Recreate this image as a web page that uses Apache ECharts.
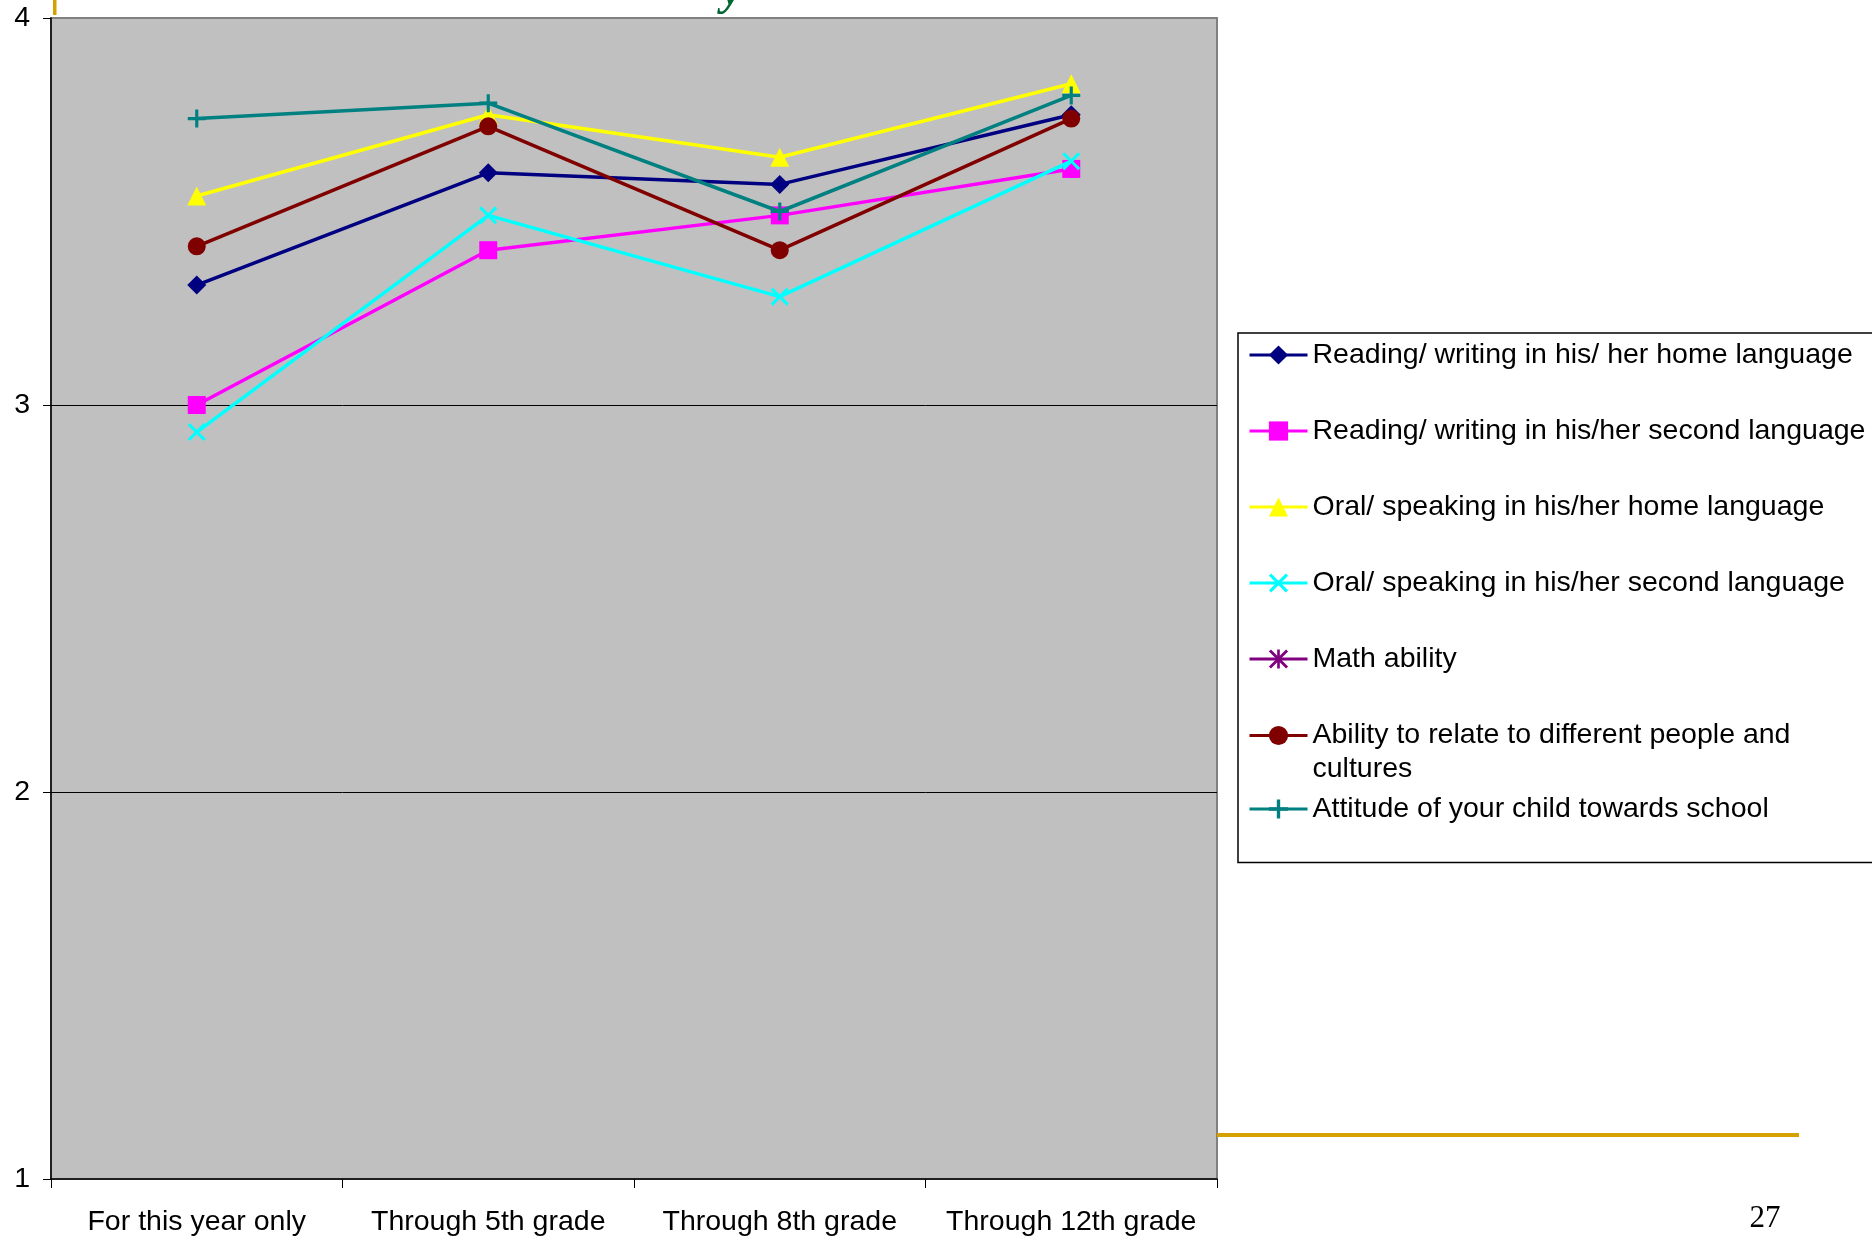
<!DOCTYPE html>
<html>
<head>
<meta charset="utf-8">
<script src="https://cdn.jsdelivr.net/npm/echarts@6/dist/echarts.min.js"></script>
<style>
html,body{margin:0;padding:0;background:#fff;}
#chart{width:1872px;height:1237px;}
</style>
</head>
<body>
<div id="chart"></div>
<script>
// ---- data ----
var categories = ['For this year only', 'Through 5th grade', 'Through 8th grade', 'Through 12th grade'];
var yTicks = [1, 2, 3, 4];

var seriesNames = [
  'Reading/ writing in his/ her home language',
  'Reading/ writing in his/her second language',
  'Oral/ speaking in his/her home language',
  'Oral/ speaking in his/her second language',
  'Math ability',
  'Ability to relate to different people and cultures',
  'Attitude of your child towards school'
];
var readingHome   = [3.31, 3.60, 3.57, 3.75];
var readingSecond = [3.00, 3.40, 3.49, 3.61];
var oralHome      = [3.54, 3.75, 3.64, 3.83];
var oralSecond    = [2.93, 3.49, 3.28, 3.63];
var mathAbility   = [null, null, null, null];
var relateCultures = [3.41, 3.72, 3.40, 3.74];
var attitudeSchool = [3.74, 3.78, 3.50, 3.80];

var pageNumber = '27';

// ---- styles ----
var FONT = '"Liberation Sans", Arial, sans-serif';
var FS = 28.5;
var colors = ['#000080', '#FF00FF', '#FFFF00', '#00FFFF', '#800080', '#800000', '#008080'];
var PLUS = 'path://M0,6.6H6.6V0H9.4V6.6H16V9.4H9.4V16H6.6V9.4H0Z';
var CROSS = 'path://M0,1.9L1.9,0L8,6.1L14.1,0L16,1.9L9.9,8L16,14.1L14.1,16L8,9.9L1.9,16L0,14.1L6.1,8Z';
var STAR = 'path://M0,1.7L1.7,0L8,6.3L14.3,0L16,1.7L9.7,8L16,14.3L14.3,16L8,9.7L1.7,16L0,14.3L6.3,8Z M6.9,0H9.1V16H6.9Z';
var symbols = ['diamond', 'rect', 'triangle', CROSS, STAR, 'circle', PLUS];
var symbolSizes = [19, 18, 19, 18, 18, 18, 18];
var dataSets = [readingHome, readingSecond, oralHome, oralSecond, mathAbility, relateCultures, attitudeSchool];

var series = seriesNames.map(function (name, i) {
  return {
    name: name,
    type: 'line',
    data: dataSets[i],
    symbol: symbols[i],
    symbolSize: symbolSizes[i],
    showAllSymbol: true,
    lineStyle: { color: colors[i], width: 3.5 },
    itemStyle: { color: colors[i], borderWidth: 0 },
    emphasis: { disabled: true },
    z: 3 + i * 0.01
  };
});

var legendText = { fontFamily: FONT, fontSize: FS, color: '#000', lineHeight: 33,
  rich: {
    a: { fontFamily: FONT, fontSize: FS, color: '#000', lineHeight: 33 },
    b: { fontFamily: FONT, fontSize: FS, color: '#000', lineHeight: 1, verticalAlign: 'top', padding: [3, 0, 0, 0] }
  }
};

var chart = echarts.init(document.getElementById('chart'), null, { renderer: 'canvas' });
chart.setOption({
  animation: false,
  backgroundColor: '#ffffff',
  grid: {
    left: 51, right: 655, top: 18, bottom: 58,
    show: true,
    backgroundColor: '#C0C0C0',
    borderColor: '#808080',
    borderWidth: 2
  },
  xAxis: {
    type: 'category',
    data: categories,
    boundaryGap: true,
    axisLine: { show: true, lineStyle: { color: '#000', width: 1.5 } },
    axisTick: { show: true, length: 9, lineStyle: { color: '#000', width: 1 } },
    axisLabel: { fontFamily: FONT, fontSize: FS, color: '#000', margin: 28.5, interval: 0 },
    splitLine: { show: false }
  },
  yAxis: {
    type: 'value',
    min: yTicks[0], max: yTicks[yTicks.length - 1], interval: 1,
    axisLine: { show: true, lineStyle: { color: '#000', width: 1.5 } },
    axisTick: { show: true, length: 8, lineStyle: { color: '#000', width: 1 } },
    axisLabel: { fontFamily: FONT, fontSize: FS, color: '#000', margin: 21 },
    splitLine: { show: true, showMinLine: false, showMaxLine: false, lineStyle: { color: '#000', width: 1 } }
  },
  legend: [{
    orient: 'vertical',
    left: 1238,
    top: 333,
    padding: [5.5, 60, 79, 10],
    itemWidth: 58,
    itemHeight: 24,
    itemGap: 43,
    borderColor: '#000',
    borderWidth: 1.5,
    backgroundColor: '#fff',
    selectedMode: false,
    data: seriesNames.slice(0, 6),
    lineStyle: { width: 3 },
    textStyle: legendText,
    formatter: function (name) {
      if (name === seriesNames[5]) {
        return '{a|Ability to relate to different people and}\n{b|cultures}';
      }
      return name;
    }
  }, {
    orient: 'vertical',
    left: 1238,
    top: 792.5,
    padding: [0, 0, 0, 10],
    itemWidth: 58,
    itemHeight: 24,
    selectedMode: false,
    data: seriesNames.slice(6),
    lineStyle: { width: 3 },
    textStyle: legendText
  }],
  graphic: [
    { type: 'rect', left: 1217, top: 1133, shape: { width: 582, height: 4 }, style: { fill: '#D6A100' }, silent: true },
    { type: 'rect', left: 53, top: 0, shape: { width: 3.5, height: 15 }, style: { fill: '#D6A100' }, silent: true },
    { type: 'text', x: 732, y: 15, style: { text: 'y', font: 'italic bold 46px "Liberation Serif", serif', fill: '#006633', align: 'center', verticalAlign: 'bottom' }, silent: true },
    { type: 'text', x: 1765, y: 1219, style: { text: pageNumber, font: '31px "Liberation Serif", "Times New Roman", serif', fill: '#000', align: 'center', verticalAlign: 'middle' }, silent: true }
  ],
  series: series
});
</script>
</body>
</html>
